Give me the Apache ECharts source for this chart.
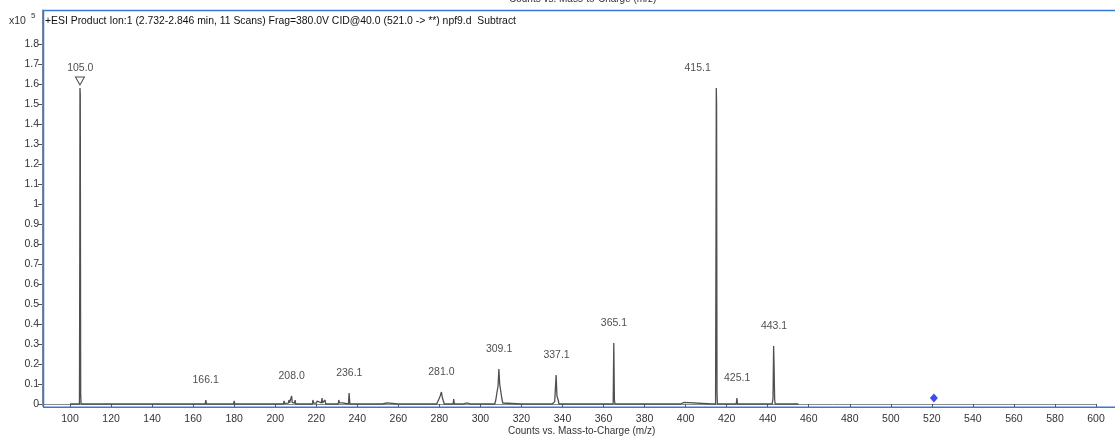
<!DOCTYPE html>
<html>
<head>
<meta charset="utf-8">
<script src="https://cdn.jsdelivr.net/npm/echarts@6/dist/echarts.min.js"></script>
<style>
html,body{margin:0;padding:0;background:#fff;}
#c{width:1115px;height:438px;}
</style>
</head>
<body>
<div id="c"></div>
<script>
// Profile spectrum (m/z, counts in units of 10^5)
var mz = [100.0,104.6,104.75,104.85,105.0,105.2,105.4,
  132.5,132.7,132.9,151.8,152.0,152.2,156.8,157.0,157.2,
  165.9,166.2,166.5,179.7,180.0,180.3,
  193.3,193.6,193.9,195.8,196.1,196.4,
  204.0,204.3,204.6,206.4,206.7,207.0,207.8,208.0,208.3,209.4,209.7,210.0,
  218.1,218.4,218.7,220.1,220.4,220.7,222.5,222.8,223.1,224.0,224.3,224.6,
  230.7,231.0,231.3,232.8,233.0,233.3,235.7,236.0,236.4,
  252.2,252.5,253.0,254.5,254.8,259.8,260.0,260.3,265.8,266.0,266.2,270.4,270.6,270.8,
  278.7,279.0,279.8,280.4,281.0,281.5,281.9,282.4,286.7,287.0,287.3,
  291.7,292.0,292.8,293.5,294.0,294.6,295.0,
  307.0,307.5,308.1,308.6,309.0,309.4,309.9,310.4,310.9,311.2,
  319.7,320.0,320.4,335.0,335.4,336.2,336.9,337.3,337.9,338.3,
  353.2,353.4,353.6,356.6,356.8,357.0,364.7,365.0,365.3,365.6,
  368.8,369.0,369.2,370.8,371.0,371.2,384.7,385.0,385.3,388.2,388.5,388.8,
  397.5,397.8,398.3,399.3,399.6,412.9,413.3,413.7,
  414.6,414.8,414.95,415.1,415.3,415.5,424.7,425.0,425.3,431.2,431.4,431.6,
  442.2,442.6,442.9,443.1,443.4,443.7,455.0];
var intensity = [0,0,0.70,1.58,1.55,0.05,0,
  0,0.004,0,0,0.004,0,0,0.003,0,
  0,0.02,0,0,0.016,0,
  0,0.005,0,0,0.004,0,
  0,0.015,0.003,0.004,0.02,0.006,0.01,0.04,0.008,0.004,0.02,0,
  0,0.02,0.005,0.004,0.015,0.005,0.006,0.03,0.006,0.004,0.02,0,
  0,0.02,0.006,0.006,0.015,0,0,0.055,0,
  0,0.005,0.003,0.006,0,0,0.006,0,0,0.003,0,0,0.003,0,
  0,0.01,0.025,0.04,0.06,0.03,0.03,0,0,0.025,0,
  0,0.008,0.004,0.008,0.004,0.006,0,
  0,0.02,0.06,0.09,0.175,0.10,0.09,0.03,0.005,0,
  0,0.008,0,0,0.01,0.012,0.145,0.04,0.02,0,
  0,0.004,0,0,0.004,0,0,0.305,0.02,0,
  0,0.003,0,0,0.003,0,0,0.008,0,0,0.006,0,
  0,0.008,0.003,0.008,0,0,0.01,0,
  0,0.81,1.58,1.50,0.06,0,0,0.03,0,0,0.004,0,
  0,0.03,0.29,0.20,0.02,0,0];

// Peak labels
var peakMz = [105.0,166.1,208.0,236.1,281.0,309.1,337.1,365.1,415.1,425.1,443.1];
var peakHeight = [1.58,0.02,0.04,0.055,0.06,0.175,0.145,0.305,1.58,0.03,0.29];
var peakText = ["105.0","166.1","208.0","236.1","281.0","309.1","337.1","365.1","415.1","425.1","443.1"];

// Precursor marker and triangle marker
var precursor = [521.0, 0.03];
var triangleMark = [104.85, 1.58];

var xTicks = [100,120,140,160,180,200,220,240,260,280,300,320,340,360,380,400,420,440,460,480,500,520,540,560,580,600];
var yTicks = [0,0.1,0.2,0.3,0.4,0.5,0.6,0.7,0.8,0.9,1,1.1,1.2,1.3,1.4,1.5,1.6,1.7,1.8];

var FONT = "'Liberation Sans', Arial, sans-serif";
// label horizontal nudges (style only)
var labelShift = {'415.1': -19};

var chart = echarts.init(document.getElementById('c'), null, {renderer:'canvas'});

var lineData = mz.map(function(m,i){return [m, intensity[i]];});
var labelData = peakMz.map(function(m,i){
  return {value:[m, peakHeight[i], peakText[i]],
    label:{offset:[labelShift[peakText[i]]||0, 0]}};
});

chart.setOption({
  animation:false,
  grid:{left:42, right:19, top:10, bottom:32, containLabel:false},
  xAxis:{
    type:'value', min:86.35, max:600,
    axisLine:{show:true, lineStyle:{color:'#8a8a8a', width:1}},
    axisTick:{show:true, length:3, customValues:xTicks, lineStyle:{color:'#555'}},
    axisLabel:{customValues:xTicks, color:'#333', fontSize:10.5, fontFamily:FONT, margin:8},
    splitLine:{show:false}
  },
  yAxis:{
    type:'value', min:-0.01, max:1.97,
    axisLine:{show:true, lineStyle:{color:'#8a8a8a', width:1}},
    axisTick:{show:true, length:4, customValues:yTicks, lineStyle:{color:'#555'}},
    axisLabel:{customValues:yTicks, color:'#333', fontSize:10.5, fontFamily:FONT, margin:3},
    splitLine:{show:false}
  },
  graphic:[
    {type:'line', shape:{x1:43.5,y1:10,x2:43.5,y2:407}, style:{stroke:'#3a78d8', lineWidth:1.5}, z:100},
    {type:'line', shape:{x1:43,y1:10.5,x2:1115,y2:10.5}, style:{stroke:'#3a78d8', lineWidth:1.5}, z:100},
    {type:'line', shape:{x1:43,y1:407.2,x2:1115,y2:407.2}, style:{stroke:'#3a78d8', lineWidth:1.5}, z:100},
    {type:'text', left:45, top:16, style:{text:'+ESI Product Ion:1 (2.732-2.846 min, 11 Scans) Frag=380.0V CID@40.0 (521.0 -> **) npf9.d  Subtract', fill:'#111', font:'10.4px '+FONT}},
    {type:'text', left:9, top:16, style:{text:'x10', fill:'#333', font:'10.5px '+FONT}},
    {type:'text', left:31, top:12, style:{text:'5', fill:'#333', font:'8px '+FONT}},
    {type:'text', left:509, top:-6, style:{text:'Counts vs. Mass-to-Charge (m/z)', fill:'#333', font:'10px '+FONT}},
    {type:'text', left:508, top:426, style:{text:'Counts vs. Mass-to-Charge (m/z)', fill:'#333', font:'10px '+FONT}}
  ],
  series:[
    {type:'line', data:lineData, showSymbol:false, symbol:'none', lineStyle:{color:'#505050', width:1.3}, z:3, silent:true},
    {type:'scatter', data:labelData, symbolSize:0, z:4,
      label:{show:true, position:'top', distance:14, color:'#222', fontSize:10.5, fontFamily:FONT,
        formatter:function(p){return p.value[2];}}},
    {type:'scatter', data:[triangleMark], symbol:'triangle', symbolRotate:180, symbolSize:[9,8], symbolOffset:[0,-7],
      itemStyle:{color:'#fff', borderColor:'#222', borderWidth:1}, z:5},
    {type:'scatter', data:[precursor], symbol:'diamond', symbolSize:[8,9],
      itemStyle:{color:'#0a22e6'}, z:5}
  ]
});
</script>
</body>
</html>
